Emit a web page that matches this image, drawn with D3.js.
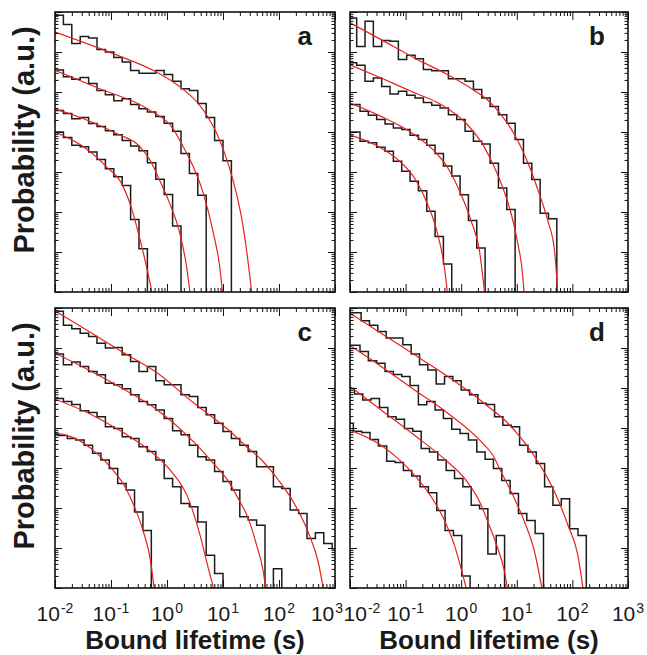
<!DOCTYPE html>
<html>
<head>
<meta charset="utf-8">
<script src="https://cdn.jsdelivr.net/npm/d3@7"></script>
<style>
  body { margin: 0; background: #fff; }
</style>
</head>
<body>
<div id="chart"></div>
<script>
// every histogram uses bins 0.15 decades wide (log10 of lifetime in s)
const binW = 0.15

// x ticks (exponents of 10) and y decades of the log axes
const xTickExps = [-2, -1, 0, 1, 2, 3]
const yDecades = [0, 1, 2, 3, 4, 5, 6, 7]

// ---- panel a : first bin edge (log10 s) and log10(probability) per bin
const aStart = [-2, -2, -2, -2]
const aHist1 = [6.92, 6.69, 6.21, 6.39, 6.35, 6.06, 6.0, 5.86, 5.75, 5.54, 5.47, 5.47, 5.54, 5.44, 5.27, 5.08, 5.04, 4.71, 4.36, 3.79, 3.28]
const aHist2 = [5.55, 5.38, 5.32, 5.36, 5.21, 5.04, 4.93, 4.78, 4.83, 4.69, 4.58, 4.5, 4.39, 4.22, 4.02, 3.46, 2.96, 2.42]
const aHist3 = [4.54, 4.46, 4.33, 4.36, 4.21, 4.14, 4.03, 3.93, 3.79, 3.65, 3.53, 3.23, 2.82, 2.44, 1.65]
const aHist4 = [4.0, 3.86, 3.67, 3.63, 3.5, 3.31, 3.08, 2.88, 2.66, 1.81, 1.08]
// fits: [log10 s, log10 probability]
const aFit1 = [[-2, 6.5], [-0.96, 5.96], [-0.19, 5.5], [0.11, 5.25], [0.38, 4.96], [0.56, 4.71], [0.71, 4.42], [0.89, 3.96], [1.01, 3.54], [1.13, 3.04], [1.24, 2.46], [1.36, 1.63], [1.48, 0.38], [1.51, 0]]
const aFit2 = [[-2, 5.54], [-1.2, 5.08], [-0.3, 4.54], [0.11, 4.08], [0.29, 3.63], [0.47, 3.13], [0.65, 2.46], [0.83, 1.46], [0.95, 0.54], [0.99, 0]]
const aFit3 = [[-2, 4.58], [-1.49, 4.33], [-0.9, 3.96], [-0.48, 3.63], [-0.3, 3.29], [-0.13, 2.79], [0.05, 2.21], [0.23, 1.46], [0.35, 0.63], [0.41, 0]]
const aFit4 = [[-2, 4.0], [-1.49, 3.63], [-1.08, 3.13], [-0.81, 2.71], [-0.66, 2.21], [-0.54, 1.63], [-0.42, 0.96], [-0.3, 0.21], [-0.27, 0]]

// ---- panel b
const bStart = [-2.03, -2.03, -1.97, -1.97]
const bHist1 = [6.85, 6.14, 6.77, 6.14, 6.29, 6.27, 5.81, 5.92, 5.83, 5.56, 5.53, 5.53, 5.33, 5.33, 5.27, 5.06, 4.85, 4.64, 4.43, 4.22, 3.81, 3.22, 2.81, 1.97, 1.83]
const bHist2 = [5.73, 5.67, 5.27, 5.35, 5.14, 4.95, 5.02, 4.92, 4.85, 4.74, 4.67, 4.6, 4.43, 4.31, 4.02, 3.77, 3.7, 3.22, 2.6, 2.06]
const bHist3 = [4.69, 4.52, 4.42, 4.31, 4.2, 4.1, 4.06, 3.92, 3.81, 3.67, 3.46, 3.15, 2.9, 2.43, 1.79, 1.1]
const bHist4 = [4.0, 3.77, 3.73, 3.62, 3.52, 3.27, 3.02, 2.77, 2.53, 2.02, 1.39, 0.7]
const bFit1 = [[-2, 6.73], [-1.44, 6.31], [-0.84, 5.85], [-0.24, 5.43], [0.2, 5.07], [0.45, 4.83], [0.72, 4.43], [0.96, 3.93], [1.11, 3.52], [1.26, 3.02], [1.41, 2.43], [1.56, 1.77], [1.68, 1.02], [1.735, 0]]
const bFit2 = [[-2, 5.68], [-1.44, 5.35], [-0.84, 4.98], [-0.38, 4.7], [0.1, 4.2], [0.4, 3.66], [0.57, 3.2], [0.75, 2.6], [0.9, 1.95], [1.02, 1.2], [1.1, 0.5], [1.13, 0]]
const bFit3 = [[-2, 4.725], [-1.44, 4.39], [-0.84, 3.93], [-0.48, 3.52], [-0.24, 3.1], [0, 2.43], [0.18, 1.77], [0.33, 1.02], [0.42, 0]]
const bFit4 = [[-2, 3.93], [-1.44, 3.6], [-1.14, 3.31], [-0.84, 2.85], [-0.6, 2.18], [-0.42, 1.43], [-0.3, 0.6], [-0.25, 0]]

// ---- panel c (null = empty bin)
const cStart = [-2, -2, -2, -2.08]
const cHist1 = [6.92, 6.57, 6.48, 6.37, 6.29, 6.12, 6.0, 6.01, 5.83, 5.66, 5.41, 5.54, 5.18, 5.08, 5.08, 4.83, 4.79, 4.51, 4.33, 4.12, 3.91, 3.74, 3.57, 3.41, 3.03, 3.03, 2.53, 2.49, 1.95, 1.86, 1.24, 1.38, 1.11, 0.98]
const cHist2 = [5.85, 5.58, 5.65, 5.54, 5.41, 5.33, 5.12, 5.08, 4.98, 4.83, 4.66, 4.58, 4.45, 4.24, 3.93, 3.83, 3.57, 3.28, 3.2, 2.91, 2.66, 2.45, 1.78, 1.7, 1.57, null, 0.48]
const cHist3 = [4.74, 4.66, 4.59, 4.43, 4.39, 4.28, 4.03, 3.99, 3.78, 3.74, 3.53, 3.41, 3.2, 2.74, 2.53, 2.11, 2.03, 1.65, 0.82, 0.36]
const cHist4 = [3.83, 3.81, 3.74, 3.7, 3.57, 3.37, 3.2, 2.99, 2.61, 2.45, 1.9, 1.44]
const cFit1 = [[-2, 6.93], [-1.4, 6.42], [-0.81, 5.91], [-0.21, 5.41], [0.5, 4.6], [0.8, 4.28], [1.1, 3.95], [1.39, 3.57], [1.69, 3.2], [1.99, 2.7], [2.29, 2.07], [2.52, 1.4], [2.7, 0.65], [2.79, 0]]
const cFit2 = [[-2, 5.87], [-1.4, 5.45], [-0.81, 5.0], [-0.21, 4.49], [0.5, 3.62], [0.8, 3.16], [1.1, 2.66], [1.27, 2.24], [1.45, 1.74], [1.6, 1.07], [1.72, 0.4], [1.76, 0]]
const cFit3 = [[-2, 4.72], [-1.4, 4.37], [-0.81, 3.91], [-0.21, 3.32], [0.08, 2.91], [0.38, 2.24], [0.59, 1.32], [0.74, 0.48], [0.83, 0]]
const cFit4 = [[-2, 3.87], [-1.64, 3.74], [-1.29, 3.41], [-0.99, 2.99], [-0.75, 2.53], [-0.57, 1.99], [-0.42, 1.4], [-0.3, 0.73], [-0.23, 0]]

// ---- panel d
const dStart = [-1.95, -1.97, -2.07, -2.09]
const dHist1 = [6.88, 6.68, 6.57, 6.41, 6.25, 6.25, 6.08, 5.85, 5.58, 5.45, 5.1, 5.29, 5.18, 4.95, 4.83, 4.62, 4.59, 4.28, 4.07, 4.03, 3.57, 3.4, 3.11, 2.53, 2.07, 2.23, 1.48, 1.31]
const dHist2 = [6.07, 5.91, 5.68, 5.62, 5.41, 5.34, 5.29, 5.06, 4.58, 4.66, 4.45, 4.24, 3.97, 3.86, 3.7, 3.4, 3.22, 2.99, 2.69, 2.36, 1.86, 1.69, 1.36]
const dHist3 = [4.99, 4.85, 4.7, 4.74, 4.51, 4.28, 4.22, 3.99, 3.92, 3.49, 3.4, 3.2, 2.94, 2.74, 2.53, 2.07, 1.98, 0.85, 1.31]
const dHist4 = [4.12, 3.92, 3.89, 3.71, 3.55, 3.17, 3.14, 2.94, 2.8, 2.53, 2.38, 1.94, 1.44, 1.31, 0.3]
const dFit1 = [[-2, 6.87], [-1.44, 6.37], [-0.84, 5.83], [-0.24, 5.29], [0.2, 4.85], [0.5, 4.52], [0.78, 4.2], [1.08, 3.74], [1.38, 3.16], [1.68, 2.4], [1.92, 1.57], [2.1, 0.81], [2.19, 0]]
const dFit2 = [[-2, 6.06], [-1.44, 5.54], [-0.84, 4.95], [-0.24, 4.37], [0.36, 3.66], [0.57, 3.32], [0.72, 2.9], [0.96, 2.23], [1.14, 1.65], [1.32, 0.9], [1.45, 0]]
const dFit3 = [[-2, 5.04], [-1.44, 4.45], [-0.84, 3.82], [-0.24, 3.15], [0.06, 2.74], [0.36, 2.07], [0.48, 1.65], [0.66, 0.98], [0.78, 0.4], [0.83, 0]]
const dFit4 = [[-2, 3.95], [-1.44, 3.57], [-1.14, 3.24], [-0.84, 2.82], [-0.54, 2.28], [-0.3, 1.69], [-0.12, 1.06], [0, 0.48], [0.09, 0]]

const panels = [
  { name: "a", col: 0, row: 0, starts: aStart, hists: [aHist1, aHist2, aHist3, aHist4], fits: [aFit1, aFit2, aFit3, aFit4] },
  { name: "b", col: 1, row: 0, starts: bStart, hists: [bHist1, bHist2, bHist3, bHist4], fits: [bFit1, bFit2, bFit3, bFit4] },
  { name: "c", col: 0, row: 1, starts: cStart, hists: [cHist1, cHist2, cHist3, cHist4], fits: [cFit1, cFit2, cFit3, cFit4] },
  { name: "d", col: 1, row: 1, starts: dStart, hists: [dHist1, dHist2, dHist3, dHist4], fits: [dFit1, dFit2, dFit3, dFit4] }
]

let width = 647
let height = 655
let colX = [55, 350]
let colW = [280, 278]
let rowY = [12, 308]
let rowH = 280

let svg = d3.select("#chart")
  .append("svg")
  .attr("width", width)
  .attr("height", height)
  .style("font-family", "'Liberation Sans', Arial, Helvetica, sans-serif")

let xMinor = []
xTickExps.slice(0, -1).forEach(e => { for (let m = 2; m < 10; m++) xMinor.push(m * 10 ** e) })
let yMinor = []
yDecades.slice(0, -1).forEach(e => { for (let m = 2; m < 10; m++) yMinor.push(m * 10 ** e) })

panels.forEach(p => {
  let left = colX[p.col], top = rowY[p.row], w = colW[p.col], h = rowH
  let x = d3.scaleLog().domain([1e-2, 1e3]).range([left, left + w])
  let y = d3.scaleLog().domain([1, 1e7]).range([top + h, top]).clamp(true)
  let bottom = top + h

  let g = svg.append("g")
  g.append("clipPath").attr("id", "clip-" + p.name)
    .append("rect").attr("x", left).attr("y", top).attr("width", w).attr("height", h)
  let plot = g.append("g").attr("clip-path", `url(#clip-${p.name})`)

  // histograms as steps
  let step = d3.line().x(d => x(10 ** d[0])).y(d => d[1]).curve(d3.curveStepAfter)
  p.hists.forEach((vals, i) => {
    let s = p.starts[i]
    let yv = v => v == null ? bottom : y(10 ** v)
    let pts = [[s - 1, yv(vals[0])]]
    vals.forEach((v, k) => pts.push([s + k * binW, yv(v)]))
    pts.push([s + vals.length * binW, bottom + 2])
    plot.append("path").attr("d", step(pts))
      .attr("fill", "none").attr("stroke", "#1c1c1c").attr("stroke-width", 1.5)
  })

  // fitted curves
  let fit = d3.line().x(d => x(10 ** d[0])).y(d => y(10 ** d[1])).curve(d3.curveMonotoneX)
  p.fits.forEach(f => {
    plot.append("path").attr("d", fit(f))
      .attr("fill", "none").attr("stroke", "#e8221e").attr("stroke-width", 1.2)
  })

  // inward ticks on all four sides
  let addAxis = (axis, vals, size, tr) => {
    g.append("g").attr("transform", tr)
      .call(axis.tickValues(vals).tickSize(size).tickFormat(""))
      .call(a => a.select(".domain").remove())
      .call(a => a.selectAll("text").remove())
      .call(a => a.selectAll("line").attr("stroke", "#111").attr("stroke-width", 1))
  }
  let xMajor = xTickExps.map(e => 10 ** e)
  let yMajor = yDecades.map(e => 10 ** e)
  addAxis(d3.axisBottom(x), xMajor, -8, `translate(0,${bottom})`)
  addAxis(d3.axisBottom(x), xMinor, -4, `translate(0,${bottom})`)
  addAxis(d3.axisTop(x), xMajor, -8, `translate(0,${top})`)
  addAxis(d3.axisTop(x), xMinor, -4, `translate(0,${top})`)
  addAxis(d3.axisLeft(y), yMajor, -7, `translate(${left},0)`)
  addAxis(d3.axisLeft(y), yMinor, -3.5, `translate(${left},0)`)
  addAxis(d3.axisRight(y), yMajor, -7, `translate(${left + w},0)`)
  addAxis(d3.axisRight(y), yMinor, -3.5, `translate(${left + w},0)`)

  g.append("rect").attr("x", left).attr("y", top).attr("width", w).attr("height", h)
    .attr("fill", "none").attr("stroke", "#111").attr("stroke-width", 1.6)

  // panel letter
  g.append("text")
    .attr("x", left + w - 23)
    .attr("y", top + 33)
    .attr("text-anchor", "end")
    .attr("font-size", 26)
    .attr("font-weight", 700)
    .attr("fill", "#1a1a1a")
    .text(p.name)

  if (p.col === 0) {
    g.append("text")
      .attr("transform", `translate(34,${top + h / 2 - 12}) rotate(-90)`)
      .attr("text-anchor", "middle")
      .attr("font-size", 29)
      .attr("font-weight", 700)
      .attr("fill", "#1a1a1a")
      .text("Probability (a.u.)")
  }

  if (p.row === 1) {
    xTickExps.forEach((e, i) => {
      // the labels where the two panels meet are nudged apart
      let nudge = 0
      if (p.col === 0 && i === xTickExps.length - 1) nudge = -8
      if (p.col === 1 && i === 0) nudge = 12
      let cx = x(10 ** e) + nudge
      let base = g.append("text")
        .attr("y", 620.5)
        .attr("font-size", 21)
        .attr("fill", "#1a1a1a")
        .text("10")
      let sup = g.append("text")
        .attr("y", 612.5)
        .attr("font-size", 14)
        .attr("fill", "#1a1a1a")
        .text(e)
      let wb = base.node().getComputedTextLength()
      let ws = sup.node().getComputedTextLength()
      let x0 = cx - (wb + 1 + ws) / 2
      base.attr("x", x0)
      sup.attr("x", x0 + wb + 1)
    })

    g.append("text")
      .attr("x", left + w / 2)
      .attr("y", 649)
      .attr("text-anchor", "middle")
      .attr("font-size", 26)
      .attr("font-weight", 700)
      .attr("fill", "#1a1a1a")
      .text("Bound lifetime (s)")
  }
})
</script>
</body>
</html>
